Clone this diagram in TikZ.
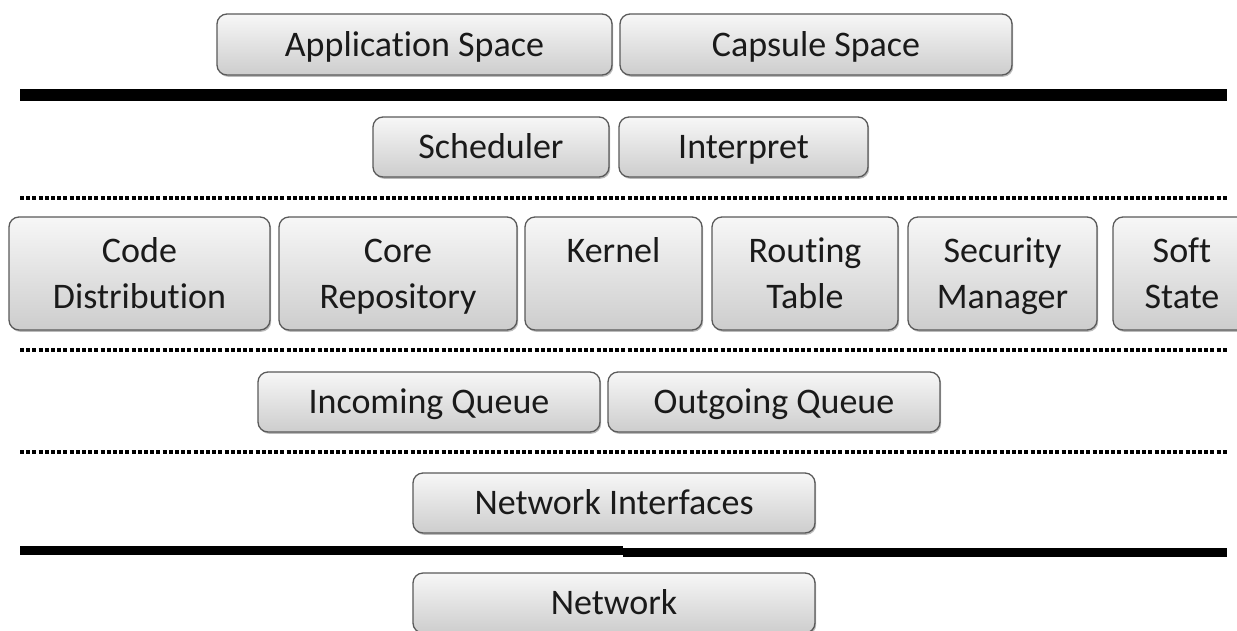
\documentclass[tikz,border=0pt]{standalone}
\usepackage{fontspec}
\setmainfont{Carlito}[Ligatures={NoCommon}]
\usetikzlibrary{shadows}
\definecolor{boxline}{HTML}{5A5A5A}
\definecolor{boxtop}{HTML}{F7F7F7}
\definecolor{boxbot}{HTML}{CDCDCD}
\definecolor{txt}{HTML}{1A1A1A}
% fixed-size line strut so every label sits at the same height
\newcommand{\ls}{\rule[-7pt]{0pt}{37pt}}
\tikzset{
  blk/.style={rectangle, rounded corners=10pt, draw=boxline, line width=1.3pt,
    top color=boxtop, bottom color=boxbot, text=txt, align=center,
    inner sep=0pt,
    font=\fontsize{36}{46}\selectfont,
    drop shadow={shadow xshift=1.2pt, shadow yshift=-1.8pt, opacity=0.45, fill=black!60}},
  thin row/.style={blk, minimum height=60pt},
  tall row/.style={blk, minimum height=113pt},
  heavy/.style={fill=black, draw=none},
  dotsep/.style={line width=3.5pt, dash pattern=on 4pt off 2.2pt, black}
}
\begin{document}
\begin{tikzpicture}[x=1pt,y=-1pt]
\clip (0,0) rectangle (1237,630);
\fill[white] (0,0) rectangle (1237,630);

% user level
\node[thin row, minimum height=61pt, minimum width=395pt] (app) at (414.5,44.5) {\ls Application Space};
\node[thin row, minimum height=61pt, minimum width=392pt] (caps) at (816,44.5) {\ls Capsule Space};

% solid boundary under the user level
\coordinate (t1a) at (20,89);
\coordinate (t1b) at (1227,101);
\fill[heavy] (t1a) rectangle (t1b);

% execution engine
\node[thin row, minimum width=236pt] (sched) at (491,147) {\ls Scheduler};
\node[thin row, minimum width=249pt] (interp) at (743.5,147) {\ls Interpret};

\coordinate (d1a) at (20,198);
\coordinate (d1b) at (1227,198);
\draw[dotsep] (d1a) -- (d1b);

% node services
\node[tall row, minimum width=261pt] (code) at (139.5,273.5) {\ls Code\\\ls Distribution};
\node[tall row, minimum width=238pt] (core) at (398,273.5) {\ls Core\\\ls Repository};
\node[tall row, minimum width=177pt] (kern) at (613.5,273.5) {\ls Kernel\\\ls};
\node[tall row, minimum width=186pt] (route) at (805,273.5) {\ls Routing\\\ls Table};
\node[tall row, minimum width=189pt] (sec) at (1002.5,273.5) {\ls Security\\\ls Manager};
\node[tall row, minimum width=138pt] (soft) at (1182,273.5) {\ls Soft\\\ls State};

\coordinate (d2a) at (20,350);
\coordinate (d2b) at (1227,350);
\draw[dotsep] (d2a) -- (d2b);

% packet queues
\node[thin row, minimum width=342pt] (inq) at (429,402) {\ls Incoming Queue};
\node[thin row, minimum width=332pt] (outq) at (774,402) {\ls Outgoing Queue};

\coordinate (d3a) at (20,452);
\coordinate (d3b) at (1227,452);
\draw[dotsep] (d3a) -- (d3b);

% interfaces
\node[thin row, minimum width=402pt] (netif) at (614,503) {\ls Network Interfaces};

% solid boundary above the network (two slightly offset halves)
\coordinate (t2a) at (20,546);
\coordinate (t2m) at (623,555);
\coordinate (t2n) at (623,548);
\coordinate (t2b) at (1227,557);
\fill[heavy] (t2a) rectangle (t2m);
\fill[heavy] (t2n) rectangle (t2b);

\node[thin row, minimum width=402pt] (net) at (614,603) {\ls Network};
\end{tikzpicture}
\end{document}
